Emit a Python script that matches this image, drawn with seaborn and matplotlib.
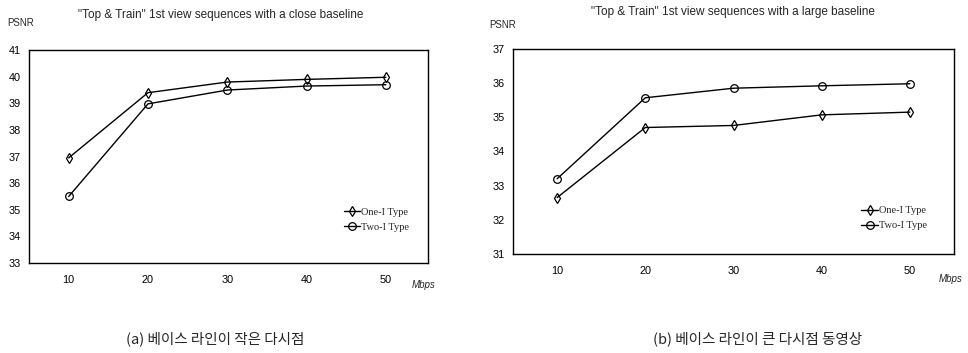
import matplotlib
matplotlib.use("Agg")
import matplotlib.pyplot as plt
import pandas as pd
import seaborn as sns

# data
rates = [10, 20, 30, 40, 50]
series_names = ["One-I Type", "Two-I Type"]

close_one = [36.95, 39.4, 39.8, 39.9, 39.98]
close_two = [35.5, 38.98, 39.5, 39.65, 39.7]

large_one = [32.65, 34.7, 34.76, 35.07, 35.15]
large_two = [33.2, 35.57, 35.85, 35.92, 35.98]

titles = [
    "\"Top & Train\" 1st view sequences with a close baseline",
    "\"Top & Train\" 1st view sequences with a large baseline",
]
captions = ["(a) 베이스 라인이 작은 다시점", "(b) 베이스 라인이 큰 다시점 동영상"]
close_yticks = [33, 34, 35, 36, 37, 38, 39, 40, 41]
large_yticks = [31, 32, 33, 34, 35, 36, 37]


def long_frame(one, two):
    rows = []
    for name, vals in zip(series_names, [one, two]):
        for r, v in zip(rates, vals):
            rows.append({"Mbps": r, "PSNR": v, "type": name})
    return pd.DataFrame(rows)


sns.set_style("white")
plt.rcParams["font.family"] = ["Liberation Sans", "DejaVu Sans"]

fig = plt.figure(figsize=(9.68, 3.53), dpi=100)
ax_l = fig.add_axes([0.030, 0.255, 0.412, 0.603])
ax_r = fig.add_axes([0.530, 0.2805, 0.4555, 0.581])

panels = [
    (ax_l, long_frame(close_one, close_two), close_yticks, (5, 55.3), 0.776, 0.285),
    (ax_r, long_frame(large_one, large_two), large_yticks, (5, 55), 0.778, 0.26),
]

for ax, df, yticks, xlim, lx, ly in panels:
    sns.lineplot(
        data=df, x="Mbps", y="PSNR", style="type",
        markers={"One-I Type": "d", "Two-I Type": "o"},
        dashes=False, color="black", linewidth=1.0,
        markersize=5.5, markeredgecolor="black", markeredgewidth=0.9,
        fillstyle="none", ax=ax,
    )
    ax.set_xlim(*xlim)
    ax.set_ylim(yticks[0], yticks[-1])
    ax.set_xticks(rates)
    ax.set_yticks(yticks)
    ax.tick_params(axis="both", length=0, labelsize=7.8, colors="black")
    ax.tick_params(axis="x", pad=9)
    ax.tick_params(axis="y", pad=6)
    ax.set_xlabel("")
    ax.set_ylabel("")
    for s in ax.spines.values():
        s.set_color("black")
        s.set_linewidth(1.0)
    handles, labels = ax.get_legend_handles_labels()
    ax.legend(
        handles, labels, loc="upper left", bbox_to_anchor=(lx, ly),
        frameon=False, handlelength=1.6, handletextpad=0.1,
        labelspacing=0.55, borderpad=0,
        prop={"family": "Liberation Serif", "size": 7.5},
    )

fig.text(0.228, 0.957, titles[0], ha="center", va="center", fontsize=8.5)
fig.text(0.757, 0.966, titles[1], ha="center", va="center", fontsize=8.5)
fig.text(0.008, 0.935, "PSNR", ha="left", va="center", fontsize=7)
fig.text(0.505, 0.929, "PSNR", ha="left", va="center", fontsize=7)
fig.text(0.438, 0.193, "Mbps", ha="center", va="center", fontsize=7, style="italic")
fig.text(0.982, 0.210, "Mbps", ha="center", va="center", fontsize=7, style="italic")

for x, cap in zip([0.222, 0.818 - 0.035], captions):
    fig.text(x, 0.04, cap, ha="center", va="center", fontsize=10.5,
             family=["Noto Sans CJK KR", "DejaVu Sans"])

fig.savefig("out.png", dpi=100)
